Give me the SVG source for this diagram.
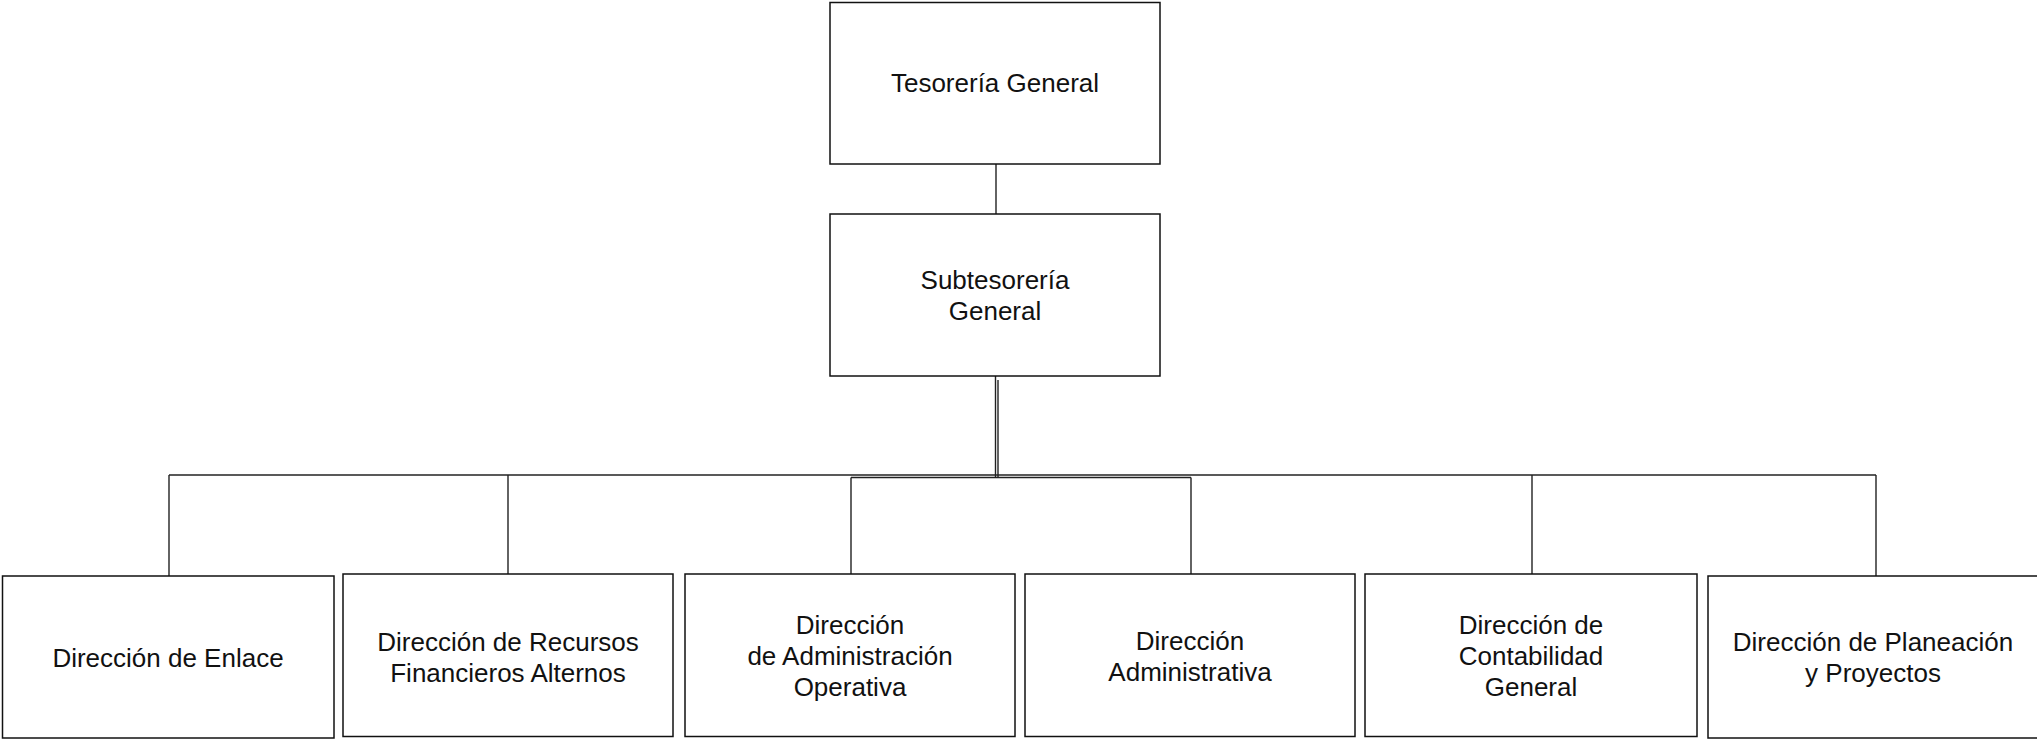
<svg xmlns="http://www.w3.org/2000/svg" width="2037" height="739" viewBox="0 0 2037 739">
<style>
.box{fill:#fff;stroke:#111;stroke-width:1.5}
.ln{fill:none;stroke:#222;stroke-width:1.4}
.t{font-family:"Liberation Sans",Arial,Helvetica,sans-serif;font-size:26px;fill:#111;text-anchor:middle}
</style>
<rect width="2037" height="739" fill="#fff"/>
<g id="connectors">
<line class="ln" x1="996" y1="164" x2="996" y2="214"/>
<line class="ln" x1="995.5" y1="376" x2="995.5" y2="477"/>
<line class="ln" x1="998" y1="380" x2="998" y2="477"/>
<line class="ln" x1="169" y1="475" x2="1876" y2="475"/>
<line class="ln" x1="851" y1="477.5" x2="1191" y2="477.5"/>
<line class="ln" x1="169" y1="475" x2="169" y2="576"/>
<line class="ln" x1="508" y1="475" x2="508" y2="574"/>
<line class="ln" x1="851" y1="477.5" x2="851" y2="574"/>
<line class="ln" x1="1191" y1="477.5" x2="1191" y2="574"/>
<line class="ln" x1="1532" y1="475" x2="1532" y2="574"/>
<line class="ln" x1="1876" y1="475" x2="1876" y2="576"/>
</g>
<g id="tesoreria">
<rect class="box" x="830" y="2.5" width="330" height="161.5"/>
<text class="t" x="995" y="92">Tesorería General</text>
</g>
<g id="subtesoreria">
<rect class="box" x="830" y="214" width="330" height="162"/>
<text class="t" x="995" y="289">Subtesorería</text>
<text class="t" x="995" y="320">General</text>
</g>
<g id="enlace">
<rect class="box" x="2.5" y="576" width="331.5" height="162"/>
<text class="t" x="168" y="667">Dirección de Enlace</text>
</g>
<g id="recursos">
<rect class="box" x="343" y="574" width="330" height="162.5"/>
<text class="t" x="508" y="651">Dirección de Recursos</text>
<text class="t" x="508" y="682">Financieros Alternos</text>
</g>
<g id="admin-operativa">
<rect class="box" x="685" y="574" width="330" height="162.5"/>
<text class="t" x="850" y="634">Dirección</text>
<text class="t" x="850" y="665">de Administración</text>
<text class="t" x="850" y="696">Operativa</text>
</g>
<g id="administrativa">
<rect class="box" x="1025" y="574" width="330" height="162.5"/>
<text class="t" x="1190" y="650">Dirección</text>
<text class="t" x="1190" y="681">Administrativa</text>
</g>
<g id="contabilidad">
<rect class="box" x="1365" y="574" width="332" height="162.5"/>
<text class="t" x="1531" y="634">Dirección de</text>
<text class="t" x="1531" y="665">Contabilidad</text>
<text class="t" x="1531" y="696">General</text>
</g>
<g id="planeacion">
<rect class="box" x="1708" y="576" width="330" height="162"/>
<text class="t" x="1873" y="651">Dirección de Planeación</text>
<text class="t" x="1873" y="682">y Proyectos</text>
</g>
</svg>
